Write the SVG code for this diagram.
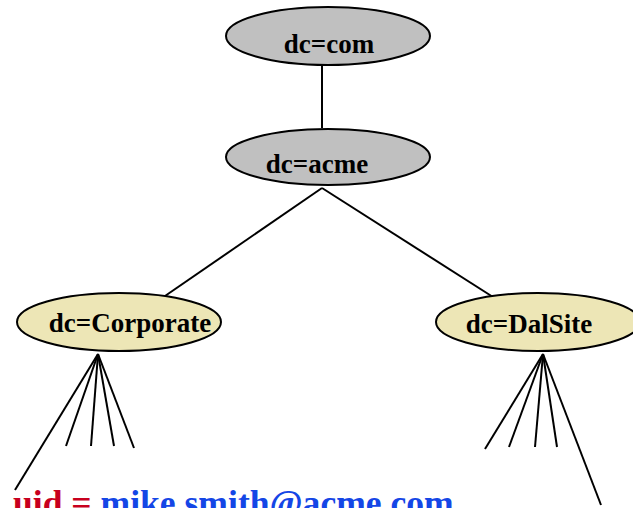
<svg xmlns="http://www.w3.org/2000/svg" width="633" height="508" viewBox="0 0 633 508">
<style>
.node ellipse{stroke:#000;stroke-width:2}
.grey{fill:#c0c0c0}
.tan{fill:#ede6b6}
.lbl{font-family:"Liberation Serif","Times New Roman",serif;font-weight:bold;font-size:27px;fill:#000;text-anchor:middle}
#connectors line{stroke:#000;stroke-width:2;fill:none}
.big{font-family:"Liberation Serif","Times New Roman",serif;font-weight:bold;font-size:35.6px}
</style>
<rect width="633" height="508" fill="#fff"/>
<g id="connectors">
<line x1="322" y1="65" x2="322" y2="128"/>
<line x1="322" y1="188" x2="165" y2="296"/>
<line x1="322" y1="188" x2="493" y2="297"/>
<line x1="98" y1="354" x2="15" y2="490"/>
<line x1="98" y1="354" x2="66" y2="446"/>
<line x1="98" y1="354" x2="91" y2="446"/>
<line x1="98" y1="354" x2="114" y2="446"/>
<line x1="98" y1="354" x2="134" y2="448"/>
<line x1="543" y1="354" x2="485" y2="449"/>
<line x1="543" y1="354" x2="509" y2="447"/>
<line x1="543" y1="354" x2="535" y2="447"/>
<line x1="543" y1="354" x2="557" y2="447"/>
<line x1="543" y1="354" x2="601" y2="505"/>
</g>
<g id="n-com" class="node">
<ellipse class="grey" cx="328" cy="36" rx="102" ry="29"/>
<text class="lbl" x="329" y="53">dc=com</text>
</g>
<g id="n-acme" class="node">
<ellipse class="grey" cx="328" cy="157" rx="102" ry="28"/>
<text class="lbl" x="317" y="173">dc=acme</text>
</g>
<g id="n-corporate" class="node">
<ellipse class="tan" cx="119" cy="322" rx="102" ry="29"/>
<text class="lbl" x="130" y="332">dc=Corporate</text>
</g>
<g id="n-dalsite" class="node">
<ellipse class="tan" cx="538" cy="322" rx="102" ry="29"/>
<text class="lbl" x="529" y="333">dc=DalSite</text>
</g>
<text class="big" x="13" y="515"><tspan fill="#c8001e">uid = </tspan><tspan fill="#1446e6">mike.smith@acme.com</tspan></text>
</svg>
